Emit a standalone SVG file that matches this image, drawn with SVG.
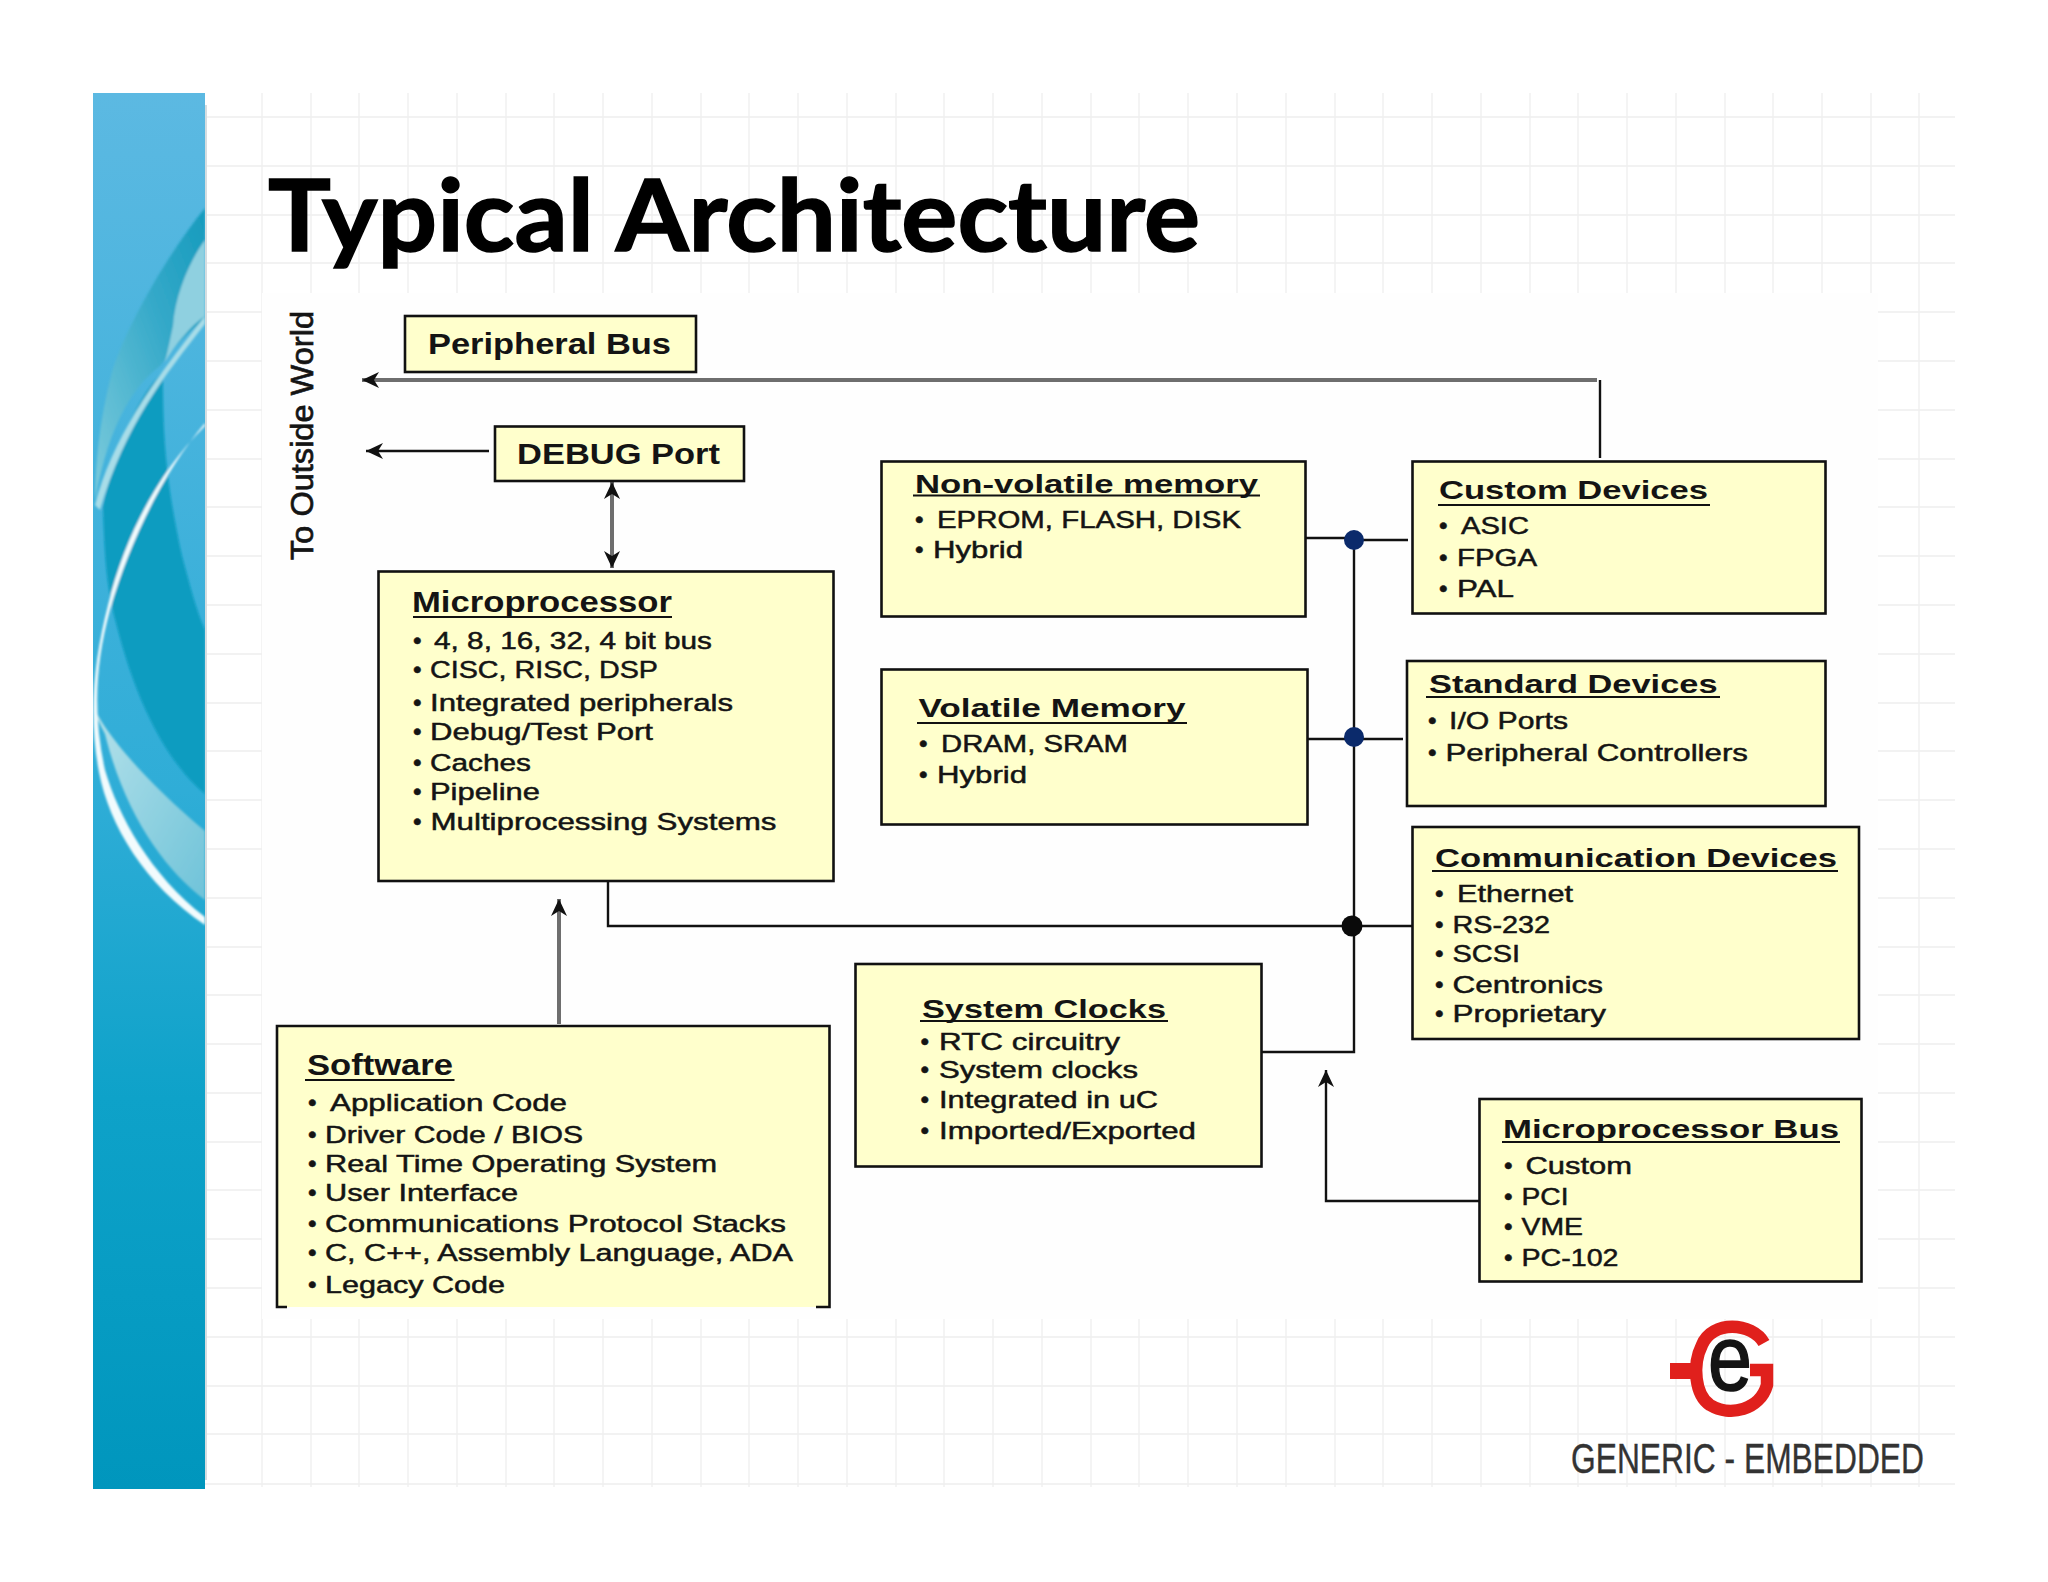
<svg xmlns="http://www.w3.org/2000/svg" width="2048" height="1582" viewBox="0 0 2048 1582">
<style>
text{font-family:"Liberation Sans",Arial,sans-serif;fill:#141414}
.i{font-size:24.5px;stroke:#141414;stroke-width:.5}
.h{font-size:26.5px;font-weight:bold}
.h2{font-size:29px;font-weight:bold}
.box{fill:#ffffcc;stroke:#111;stroke-width:2.6}
.u{stroke:#111;stroke-width:2;fill:none}
.k{stroke:#111;stroke-width:2.4;fill:none}
.g{stroke:#6e6e6e;stroke-width:4;fill:none}
.grid path{stroke:#eeeeee;stroke-width:1.3;fill:none}
</style>
<defs>
<linearGradient id="side" x1="0" y1="0" x2="0" y2="1"><stop offset="0" stop-color="#5cb9e2"/><stop offset=".5" stop-color="#2fadd7"/><stop offset=".72" stop-color="#0ea2c9"/><stop offset="1" stop-color="#0096bd"/></linearGradient>
<linearGradient id="wedge" x1="0" y1="1" x2="1" y2="0"><stop offset="0" stop-color="#7ccbdc"/><stop offset=".6" stop-color="#35a9c9"/><stop offset="1" stop-color="#169bbd"/></linearGradient>
<linearGradient id="pale" x1="0" y1="0" x2="1" y2="1"><stop offset="0" stop-color="#b6e2ea"/><stop offset="1" stop-color="#6fc3d9"/></linearGradient>
<filter id="soft" x="-5%" y="-5%" width="110%" height="110%"><feGaussianBlur stdDeviation="1"/></filter>
<clipPath id="sideclip"><rect x="93" y="93" width="112" height="1396"/></clipPath>
<marker id="ah" markerUnits="userSpaceOnUse" markerWidth="20" markerHeight="20" refX="17" refY="9" orient="auto-start-reverse"><path d="M17 9L0 1L5 9L0 17Z" fill="#111"/></marker>
</defs>
<rect width="2048" height="1582" fill="#fff"/>
<g class="grid">
<path d="M262 93V1487M311 93V1487M359 93V1487M408 93V1487M457 93V1487M506 93V1487M554 93V1487M603 93V1487M652 93V1487M701 93V1487M749 93V1487M798 93V1487M847 93V1487M896 93V1487M944 93V1487M993 93V1487M1042 93V1487M1091 93V1487M1139 93V1487M1188 93V1487M1237 93V1487M1286 93V1487M1335 93V1487M1383 93V1487M1432 93V1487M1481 93V1487M1530 93V1487M1578 93V1487M1627 93V1487M1676 93V1487M1725 93V1487M1773 93V1487M1822 93V1487M1871 93V1487M1919 93V1487"/>
<path d="M205 117H1955M205 166H1955M205 215H1955M205 263H1955M205 312H1955M205 361H1955M205 410H1955M205 459H1955M205 507H1955M205 556H1955M205 605H1955M205 654H1955M205 703H1955M205 751H1955M205 800H1955M205 849H1955M205 898H1955M205 947H1955M205 995H1955M205 1044H1955M205 1093H1955M205 1142H1955M205 1190H1955M205 1239H1955M205 1288H1955M205 1337H1955M205 1386H1955M205 1434H1955M205 1484H1955"/>
</g>
<rect x="262" y="293" width="1616" height="1026" fill="#fefefe"/>
<g id="sidebar">
<rect x="93" y="93" width="112" height="1396" fill="url(#side)"/>
<path d="M205 105H207V1480H205Z" fill="#d5dde0"/>
<g clip-path="url(#sideclip)"><g filter="url(#soft)">
<path d="M103 507C111 465 133 400 163 372C163 420 163 470 182 556C190 585 196 610 205 630V794C176 770 140 720 115 619C110 595 105 580 103 507Z" fill="#0a9cc0"/>
<path d="M112 372C125 330 165 257 205 208V320C190 330 175 345 160 366C135 385 110 420 95 500C96 440 105 400 112 372Z" fill="url(#wedge)"/>
<path d="M173 326C175 295 190 260 205 240V316C190 326 175 345 165 362C168 350 170 340 173 326Z" fill="#8fd0e0"/>
<path d="M95 505C112 440 150 385 205 316V324C165 375 125 425 100 510Z" fill="#a8dde8"/>
<path d="M93 705C105 735 150 785 205 831V900C165 870 125 815 105 734C100 725 96 715 93 705Z" fill="url(#pale)"/>
<path d="M205 423C165 470 130 540 110 610C95 665 93 715 105 770C118 815 150 875 205 917V925C145 885 109 825 99 772C88 715 94 660 108 605C125 535 160 470 205 426Z" fill="#f2fbfd"/>
</g></g>
</g>
<text id="title" x="268" y="251" font-size="99" style="font-family:Lato,'Liberation Sans',sans-serif;font-weight:bold;fill:#000;stroke:#000;stroke-width:1.5" textLength="932" lengthAdjust="spacingAndGlyphs">Typical Architecture</text>
<text id="outside" transform="translate(313 560) rotate(-90)" font-size="32" style="stroke:#141414;stroke-width:.7" textLength="249" lengthAdjust="spacingAndGlyphs">To Outside World</text>
<g id="connectors">
<path class="g" d="M1597 380H362" marker-end="url(#ah)"/>
<path class="k" d="M1600 380V458"/>
<path class="k" d="M489 451H366" marker-end="url(#ah)"/>
<path class="g" d="M612 482V568" marker-start="url(#ah)" marker-end="url(#ah)"/>
<path class="g" d="M559 1024V899" marker-end="url(#ah)"/>
<path class="k" d="M608 882V926H1412"/>
<path class="k" d="M1354 540V1052H1260"/>
<path class="k" d="M1306 538H1345M1363 540H1408"/>
<path class="k" d="M1306 739H1403"/>
<path class="k" d="M1479 1201H1326V1070" marker-end="url(#ah)"/>
<circle cx="1354" cy="540" r="10" fill="#0b2a6b"/>
<circle cx="1354" cy="737" r="10" fill="#0b2a6b"/>
<circle cx="1352" cy="926" r="10.5" fill="#0a0a0a"/>
</g>
<g id="peripheral-bus"><rect class="box" x="405" y="316" width="291" height="56"/>
<text class="h2" x="428" y="354" textLength="243" lengthAdjust="spacingAndGlyphs">Peripheral Bus</text></g>
<g id="debug-port"><rect class="box" x="495" y="426.500" width="249" height="54.500"/>
<text class="h2" x="517" y="464" textLength="203" lengthAdjust="spacingAndGlyphs">DEBUG Port</text></g>
<g id="microprocessor"><rect class="box" x="378.500" y="571.500" width="455" height="309.500"/>
<text class="h2" x="412" y="612" textLength="260" lengthAdjust="spacingAndGlyphs">Microprocessor</text><path class="u" d="M413 617H672"/>
<text class="i" y="649"><tspan x="413">•</tspan><tspan x="434" textLength="278" lengthAdjust="spacingAndGlyphs">4, 8, 16, 32, 4 bit bus</tspan></text>
<text class="i" y="677.500"><tspan x="413">•</tspan><tspan x="430" textLength="228" lengthAdjust="spacingAndGlyphs">CISC, RISC, DSP</tspan></text>
<text class="i" y="710.500"><tspan x="413">•</tspan><tspan x="430" textLength="303" lengthAdjust="spacingAndGlyphs">Integrated peripherals</tspan></text>
<text class="i" y="740"><tspan x="413">•</tspan><tspan x="430" textLength="223" lengthAdjust="spacingAndGlyphs">Debug/Test Port</tspan></text>
<text class="i" y="771"><tspan x="413">•</tspan><tspan x="430" textLength="101" lengthAdjust="spacingAndGlyphs">Caches</tspan></text>
<text class="i" y="800"><tspan x="413">•</tspan><tspan x="430" textLength="110" lengthAdjust="spacingAndGlyphs">Pipeline</tspan></text>
<text class="i" y="830"><tspan x="413">•</tspan><tspan x="430.500" textLength="346" lengthAdjust="spacingAndGlyphs">Multiprocessing Systems</tspan></text></g>
<g id="software"><rect x="277" y="1026" width="552.500" height="281" fill="#ffffcc"/><path d="M287 1307H277V1026H829.500V1307H816" fill="none" stroke="#111" stroke-width="2.600"/>
<text class="h2" x="307" y="1075" textLength="146" lengthAdjust="spacingAndGlyphs">Software</text><path class="u" d="M305 1080H454.500"/>
<text class="i" y="1111"><tspan x="308">•</tspan><tspan x="330" textLength="237" lengthAdjust="spacingAndGlyphs">Application Code</tspan></text>
<text class="i" y="1143"><tspan x="308">•</tspan><tspan x="325" textLength="258" lengthAdjust="spacingAndGlyphs">Driver Code / BIOS</tspan></text>
<text class="i" y="1172"><tspan x="308">•</tspan><tspan x="325" textLength="392" lengthAdjust="spacingAndGlyphs">Real Time Operating System</tspan></text>
<text class="i" y="1201"><tspan x="308">•</tspan><tspan x="325" textLength="193" lengthAdjust="spacingAndGlyphs">User Interface</tspan></text>
<text class="i" y="1232"><tspan x="308">•</tspan><tspan x="325" textLength="461" lengthAdjust="spacingAndGlyphs">Communications Protocol Stacks</tspan></text>
<text class="i" y="1261"><tspan x="308">•</tspan><tspan x="325" textLength="468" lengthAdjust="spacingAndGlyphs">C, C++, Assembly Language, ADA</tspan></text>
<text class="i" y="1292.500"><tspan x="308">•</tspan><tspan x="325" textLength="180" lengthAdjust="spacingAndGlyphs">Legacy Code</tspan></text></g>
<g id="non-volatile-memory"><rect class="box" x="881.500" y="461.500" width="424" height="155"/>
<text class="h" x="915" y="493" textLength="343" lengthAdjust="spacingAndGlyphs">Non-volatile memory</text><path class="u" d="M913 495.500H1260"/>
<text class="i" y="528"><tspan x="915">•</tspan><tspan x="937" textLength="304" lengthAdjust="spacingAndGlyphs">EPROM, FLASH, DISK</tspan></text>
<text class="i" y="558"><tspan x="915">•</tspan><tspan x="933" textLength="90" lengthAdjust="spacingAndGlyphs">Hybrid</tspan></text></g>
<g id="volatile-memory"><rect class="box" x="881.500" y="669.500" width="426" height="155"/>
<text class="h" x="918.500" y="717" textLength="267" lengthAdjust="spacingAndGlyphs">Volatile Memory</text><path class="u" d="M917 723H1187"/>
<text class="i" y="752"><tspan x="919">•</tspan><tspan x="941" textLength="187" lengthAdjust="spacingAndGlyphs">DRAM, SRAM</tspan></text>
<text class="i" y="783"><tspan x="919">•</tspan><tspan x="937" textLength="90" lengthAdjust="spacingAndGlyphs">Hybrid</tspan></text></g>
<g id="custom-devices"><rect class="box" x="1412.500" y="461.500" width="413" height="152"/>
<text class="h" x="1439" y="499" textLength="269" lengthAdjust="spacingAndGlyphs">Custom Devices</text><path class="u" d="M1438 505H1710"/>
<text class="i" y="534"><tspan x="1439">•</tspan><tspan x="1461" textLength="68" lengthAdjust="spacingAndGlyphs">ASIC</tspan></text>
<text class="i" y="565.500"><tspan x="1439">•</tspan><tspan x="1457" textLength="80" lengthAdjust="spacingAndGlyphs">FPGA</tspan></text>
<text class="i" y="597"><tspan x="1439">•</tspan><tspan x="1457" textLength="57" lengthAdjust="spacingAndGlyphs">PAL</tspan></text></g>
<g id="standard-devices"><rect class="box" x="1407" y="661" width="418.500" height="145"/>
<text class="h" x="1429" y="693" textLength="288.500" lengthAdjust="spacingAndGlyphs">Standard Devices</text><path class="u" d="M1426 697H1720"/>
<text class="i" y="729"><tspan x="1428">•</tspan><tspan x="1449" textLength="119" lengthAdjust="spacingAndGlyphs">I/O Ports</tspan></text>
<text class="i" y="761"><tspan x="1428">•</tspan><tspan x="1445.500" textLength="302.500" lengthAdjust="spacingAndGlyphs">Peripheral Controllers</tspan></text></g>
<g id="communication-devices"><rect class="box" x="1412.500" y="827" width="446.500" height="212"/>
<text class="h" x="1435" y="867" textLength="402" lengthAdjust="spacingAndGlyphs">Communication Devices</text><path class="u" d="M1432 871H1838"/>
<text class="i" y="902"><tspan x="1435">•</tspan><tspan x="1457" textLength="116" lengthAdjust="spacingAndGlyphs">Ethernet</tspan></text>
<text class="i" y="933"><tspan x="1435">•</tspan><tspan x="1452.500" textLength="97.500" lengthAdjust="spacingAndGlyphs">RS-232</tspan></text>
<text class="i" y="962"><tspan x="1435">•</tspan><tspan x="1452.500" textLength="67.500" lengthAdjust="spacingAndGlyphs">SCSI</tspan></text>
<text class="i" y="993"><tspan x="1435">•</tspan><tspan x="1452.500" textLength="150.500" lengthAdjust="spacingAndGlyphs">Centronics</tspan></text>
<text class="i" y="1022"><tspan x="1435">•</tspan><tspan x="1452.500" textLength="153.500" lengthAdjust="spacingAndGlyphs">Proprietary</tspan></text></g>
<g id="system-clocks"><rect class="box" x="855.500" y="964" width="406" height="202.500"/>
<text class="h" x="922" y="1018" textLength="244" lengthAdjust="spacingAndGlyphs">System Clocks</text><path class="u" d="M920 1021H1168"/>
<text class="i" y="1049.500"><tspan x="920.500">•</tspan><tspan x="939" textLength="181" lengthAdjust="spacingAndGlyphs">RTC circuitry</tspan></text>
<text class="i" y="1078"><tspan x="920.500">•</tspan><tspan x="939" textLength="199" lengthAdjust="spacingAndGlyphs">System clocks</tspan></text>
<text class="i" y="1108"><tspan x="920.500">•</tspan><tspan x="939" textLength="219" lengthAdjust="spacingAndGlyphs">Integrated in uC</tspan></text>
<text class="i" y="1139"><tspan x="920.500">•</tspan><tspan x="939" textLength="257" lengthAdjust="spacingAndGlyphs">Imported/Exported</tspan></text></g>
<g id="microprocessor-bus"><rect class="box" x="1479.500" y="1099" width="382" height="182.500"/>
<text class="h" x="1503" y="1138" textLength="336" lengthAdjust="spacingAndGlyphs">Microprocessor Bus</text><path class="u" d="M1502 1142H1840"/>
<text class="i" y="1174"><tspan x="1504">•</tspan><tspan x="1525.500" textLength="106.500" lengthAdjust="spacingAndGlyphs">Custom</tspan></text>
<text class="i" y="1205"><tspan x="1504">•</tspan><tspan x="1521.500" textLength="47" lengthAdjust="spacingAndGlyphs">PCI</tspan></text>
<text class="i" y="1235"><tspan x="1504">•</tspan><tspan x="1521.500" textLength="61.500" lengthAdjust="spacingAndGlyphs">VME</tspan></text>
<text class="i" y="1266"><tspan x="1504">•</tspan><tspan x="1521.500" textLength="97" lengthAdjust="spacingAndGlyphs">PC-102</tspan></text></g>
<g id="logo">
<path d="M1764 1343C1752 1322 1712 1320 1702 1345C1692 1365 1695 1395 1710 1405C1730 1417 1760 1410 1767 1385V1370H1750" fill="none" stroke="#e0201c" stroke-width="12.500"/>
<path d="M1670 1363H1698V1379H1670Z" fill="#e0201c"/>
<text x="1708" y="1390" font-size="92" textLength="44" lengthAdjust="spacingAndGlyphs" style="stroke:#141414;stroke-width:1.6">e</text>
<text x="1571" y="1473" font-size="43" textLength="353" lengthAdjust="spacingAndGlyphs" style="fill:#333;stroke:#333;stroke-width:.4">GENERIC - EMBEDDED</text>
</g>
</svg>
